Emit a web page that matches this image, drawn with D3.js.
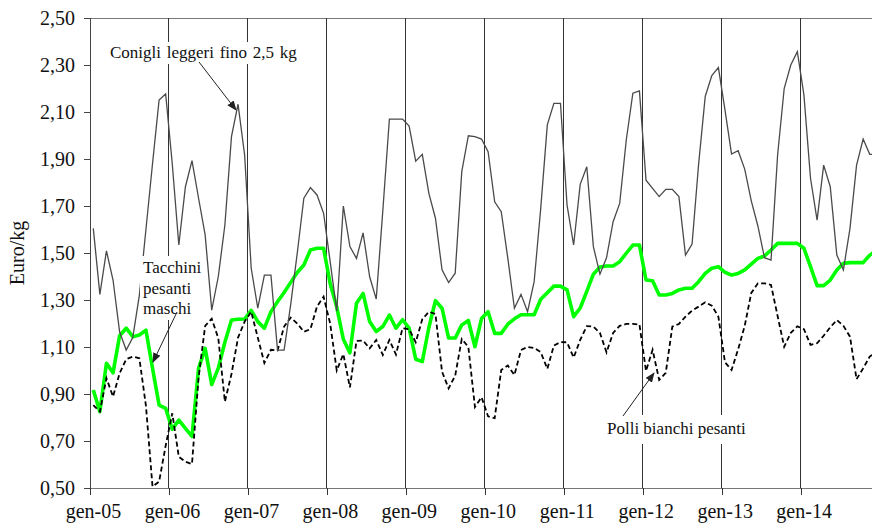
<!DOCTYPE html>
<html><head><meta charset="utf-8">
<script src="https://cdn.jsdelivr.net/npm/d3@7"></script>
<style>body{margin:0;background:#fff}svg{display:block}</style>
</head><body><svg id="c" width="872" height="523"></svg>
<script>
const yearLabels = ["gen-05","gen-06","gen-07","gen-08","gen-09","gen-10","gen-11","gen-12","gen-13","gen-14"];
const yTicks = [0.5,0.7,0.9,1.1,1.3,1.5,1.7,1.9,2.1,2.3,2.5];

// Conigli leggeri fino 2,5 kg (monthly, gen-05 .. dic-14)
const conigli = [
1.605,1.324,1.509,1.385,1.165,1.087,1.14,1.32,1.60,1.88,2.151,2.177,
1.88,1.534,1.782,1.893,1.733,1.577,1.257,1.40,1.619,1.995,2.133,1.917,
1.435,1.265,1.406,1.406,1.087,1.087,1.28,1.50,1.733,1.778,1.747,1.669,
1.463,1.253,1.70,1.527,1.477,1.586,1.399,1.304,1.68,2.07,2.07,2.07,
2.04,1.891,1.92,1.754,1.648,1.428,1.374,1.414,1.846,1.999,1.995,1.985,
1.931,1.718,1.676,1.477,1.265,1.324,1.25,1.378,1.69,2.045,2.137,2.137,
1.704,1.534,1.792,1.867,1.527,1.41,1.48,1.633,1.711,1.981,2.18,2.19,
1.81,1.775,1.74,1.771,1.771,1.74,1.491,1.538,1.88,2.166,2.255,2.289,
2.109,1.921,1.935,1.857,1.722,1.615,1.48,1.47,1.917,2.2,2.3,2.357,
2.172,1.818,1.64,1.874,1.782,1.491,1.428,1.605,1.874,1.985,1.92,1.92];

// Tacchini pesanti maschi
const tacchini = [
0.917,0.825,1.031,0.99,1.148,1.18,1.144,1.151,1.172,1.01,0.853,0.839,
0.75,0.789,0.754,0.72,1.009,1.094,0.94,1.01,1.12,1.215,1.218,1.219,
1.256,1.208,1.18,1.25,1.293,1.332,1.375,1.417,1.449,1.513,1.52,1.52,
1.37,1.27,1.133,1.075,1.286,1.328,1.208,1.166,1.187,1.236,1.18,1.216,
1.18,1.048,1.038,1.183,1.297,1.265,1.138,1.138,1.194,1.213,1.101,1.221,
1.25,1.158,1.158,1.197,1.22,1.237,1.237,1.237,1.303,1.331,1.359,1.359,
1.343,1.229,1.266,1.337,1.41,1.44,1.445,1.445,1.463,1.499,1.534,1.534,
1.385,1.382,1.321,1.321,1.328,1.343,1.35,1.35,1.378,1.413,1.435,1.442,
1.418,1.406,1.413,1.428,1.453,1.477,1.487,1.513,1.541,1.541,1.541,1.541,
1.52,1.442,1.361,1.361,1.385,1.428,1.456,1.459,1.459,1.459,1.491,1.51];

// Polli bianchi pesanti
const polli = [
0.853,0.825,0.967,0.889,0.988,1.048,1.059,1.052,0.85,0.506,0.527,0.68,
0.818,0.633,0.612,0.602,0.97,1.19,1.22,1.137,0.867,0.985,1.14,1.208,
1.25,1.14,1.032,1.088,1.085,1.187,1.225,1.2,1.165,1.176,1.272,1.314,
1.20,1.0,1.07,0.928,1.126,1.127,1.094,1.13,1.066,1.13,1.068,1.18,
1.176,1.12,1.218,1.25,1.24,0.995,0.924,0.978,1.134,1.10,0.845,0.886,
0.805,0.797,1.002,1.021,0.981,1.087,1.10,1.096,1.078,1.007,1.106,1.121,
1.12,1.055,1.13,1.189,1.187,1.16,1.077,1.16,1.19,1.198,1.198,1.196,
0.998,1.088,0.96,0.99,1.187,1.198,1.229,1.255,1.272,1.29,1.276,1.229,
1.035,1.002,1.09,1.19,1.33,1.371,1.371,1.364,1.232,1.101,1.16,1.188,
1.176,1.109,1.116,1.148,1.184,1.215,1.19,1.144,0.963,1.009,1.059,1.08];

const W = 872, H = 523;
const font = "'Liberation Serif','Times New Roman',serif";
const svg = d3.select("#c");
const x = d3.scaleLinear().domain([0, 120]).range([90, 879.6]);
const y = d3.scaleLinear().domain([0.5, 2.5]).range([488, 18]);

// marker
svg.append("defs").append("marker").attr("id","arr")
  .attr("markerUnits","userSpaceOnUse").attr("markerWidth",10).attr("markerHeight",8)
  .attr("refX",9).attr("refY",4).attr("orient","auto")
  .append("path").attr("d","M0,0 L10,4 L0,8 Z").attr("fill","#222");

// top border
svg.append("line").attr("x1",x(0)).attr("x2",W).attr("y1",y(2.5)).attr("y2",y(2.5))
  .attr("stroke","#777").attr("shape-rendering","crispEdges");

// year grid lines
const yearIdx = yearLabels.map((d,i)=>i*12);
svg.append("g").selectAll("line").data(yearIdx).join("line")
  .attr("x1",d=>x(d)).attr("x2",d=>x(d)).attr("y1",y(2.5)).attr("y2",y(0.5))
  .attr("stroke","#333").attr("stroke-width",1).attr("shape-rendering","crispEdges");

// axes
const yAxis = d3.axisLeft(y).tickValues(yTicks).tickSize(6).tickPadding(9)
  .tickFormat(d=>d3.format(".2f")(d).replace(".",","));
const gy = svg.append("g").attr("transform",`translate(${x(0)},0)`).call(yAxis);
gy.select(".domain").attr("stroke","#444").attr("shape-rendering","crispEdges");
gy.selectAll(".tick line").attr("stroke","#444").attr("shape-rendering","crispEdges");
gy.selectAll("text").attr("font-family",font).attr("font-size",20).attr("fill","#111");

const xAxis = d3.axisBottom(x).tickValues(yearIdx).tickSize(7).tickSizeOuter(0).tickPadding(9)
  .tickFormat((d,i)=>yearLabels[i]);
const gx = svg.append("g").attr("transform",`translate(0,${y(0.5)})`).call(xAxis);
gx.select(".domain").attr("stroke","#777").attr("shape-rendering","crispEdges");
gx.selectAll(".tick line").attr("stroke","#333").attr("shape-rendering","crispEdges");
gx.selectAll("text").attr("font-family",font).attr("font-size",20).attr("fill","#111").attr("x",3);

// y label
svg.append("text").attr("transform","translate(24,253) rotate(-90)")
  .attr("text-anchor","middle").attr("font-family",font).attr("font-size",20).attr("fill","#111")
  .text("Euro/kg");

// lines
const line = d3.line().x((d,i)=>x(i+0.5)).y(d=>y(d));
svg.append("path").datum(tacchini).attr("d",line).attr("fill","none")
  .attr("stroke","#00ff00").attr("stroke-width",3.6).attr("stroke-linejoin","round");
svg.append("path").datum(polli).attr("d",line).attr("fill","none")
  .attr("stroke","#000").attr("stroke-width",1.8).attr("stroke-dasharray","5,3");
svg.append("path").datum(conigli).attr("d",line).attr("fill","none")
  .attr("stroke","#4a4a4a").attr("stroke-width",1.3);

// annotations
function label(lines, x0, y0, lh, bg){
  const g = svg.append("g");
  g.append("rect").attr("x",bg[0]).attr("y",bg[1]).attr("width",bg[2]).attr("height",bg[3]).attr("fill","#fff");
  lines.forEach((t,k)=>g.append("text").attr("x",x0).attr("y",y0+k*lh)
    .attr("font-family",font).attr("font-size",17).attr("fill","#111")
    .attr("word-spacing", lines.length===1 && t.startsWith("Conigli") ? 1.5 : 0).text(t));
}
label(["Conigli leggeri fino 2,5 kg"], 110, 58, 0, [107,42,192,22]);
label(["Tacchini","pesanti","maschi"], 143, 273, 20.5, [140,256,64,64]);
label(["Polli bianchi pesanti"], 607, 434, 0, [603,415,150,29]);

function arrow(x1,y1,x2,y2){
  svg.append("line").attr("x1",x1).attr("y1",y1).attr("x2",x2).attr("y2",y2)
    .attr("stroke","#222").attr("stroke-width",1).attr("marker-end","url(#arr)");
}
arrow(199,62,236,110);
arrow(177,312,153,362);
arrow(623,416,654,373);
</script></body></html>
